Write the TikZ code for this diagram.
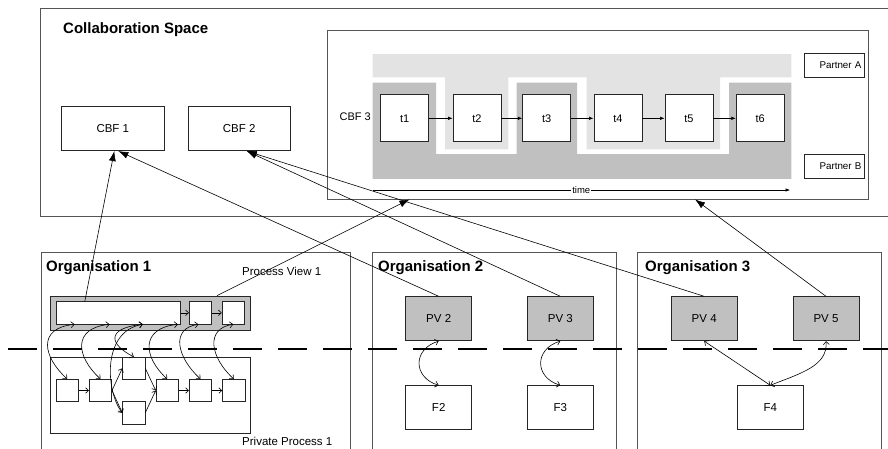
\documentclass[tikz,border=0pt]{standalone}
\usepackage{fontspec}
\setmainfont{Liberation Sans}
\usetikzlibrary{arrows.meta,calc}
\definecolor{lanelight}{HTML}{E3E3E3}
\definecolor{lanedark}{HTML}{C0C0C0}
\definecolor{framegray}{HTML}{555555}

\begin{document}
\begin{tikzpicture}[x=1pt,y=-1pt,
  outerframe/.style={draw=framegray,line width=1pt},
  box/.style={draw=black!85,fill=white,line width=0.8pt,inner sep=0pt,
    font=\fontsize{11.5}{13}\selectfont},
  pvbox/.style={box,fill=lanedark,minimum width=66pt,minimum height=44pt},
  fbox/.style={box,minimum width=66pt,minimum height=43.6pt},
  tbox/.style={box,minimum width=48pt,minimum height=47pt,font=\fontsize{11}{13}\selectfont},
  mini/.style={box,minimum width=22.3pt,minimum height=22.3pt,line width=0.7pt},
  partner/.style={box,minimum width=60pt,minimum height=24pt,text width=55pt,align=right,
    font=\fontsize{9.8}{11}\selectfont},
  heading/.style={font=\fontsize{15}{18}\selectfont\bfseries,inner sep=0pt,anchor=west},
  txt/.style={font=\fontsize{11.5}{13}\selectfont,inner sep=0pt,anchor=west},
  smalltxt/.style={font=\fontsize{9.5}{11}\selectfont},
  bigarrow/.style={-{Latex[length=10pt,width=7pt]},line width=0.6pt},
  flow/.style={-{Latex[length=4.5pt,width=3.5pt]},line width=0.6pt},
  link/.style={-{Straight Barb[length=3pt,width=5.5pt]},line width=0.6pt},
  dlink/.style={{Straight Barb[length=3.2pt,width=6pt]}-{Straight Barb[length=3.2pt,width=6pt]},line width=0.6pt}]

\useasboundingbox (0,0) rectangle (888,448);

% ---------------- collaboration space ----------------
\draw[outerframe] (900,8) -- (40,8) -- (40,216) -- (900,216);
\node[heading] (cstitle) at (63,30) {Collaboration Space};

\node[box,minimum width=102.3pt,minimum height=44.7pt] (cbf1) at (112.8,128.3) {CBF 1};
\node[box,minimum width=101.7pt,minimum height=44.7pt] (cbf2) at (239.2,128.3) {CBF 2};

% CBF 3 with its two partner lanes
\node[draw=framegray,line width=0.8pt,minimum width=541pt,minimum height=169pt,inner sep=0pt]
  (cbf3) at (597.5,114.5) {};
\fill[lanelight] (372.6,54) -- (791.4,54) -- (791.4,77.3) -- (720,77.3) -- (720,149.3)
  -- (586.7,149.3) -- (586.7,77.3) -- (508.3,77.3) -- (508.3,149.3) -- (445,149.3)
  -- (445,77.3) -- (372.6,77.3) -- cycle;
\fill[lanedark] (372.6,82.7) -- (436,82.7) -- (436,154) -- (516.7,154)
  -- (516.7,82.7) -- (577,82.7) -- (577,154) -- (729,154) -- (729,82.7)
  -- (791.4,82.7) -- (791.4,178.8) -- (372.6,178.8) -- cycle;
\node[txt,anchor=east,font=\fontsize{11}{13}\selectfont] (cbf3lab) at (371,116.7) {CBF 3};

\node[tbox] (t1) at (404.6,118.3) {t1};
\node[tbox] (t2) at (477.0,118.3) {t2};
\node[tbox] (t3) at (546.7,118.3) {t3};
\node[tbox] (t4) at (617.9,118.3) {t4};
\node[tbox] (t5) at (689.0,118.3) {t5};
\node[tbox] (t6) at (760.2,118.3) {t6};
\foreach \a/\b in {t1/t2,t2/t3,t3/t4,t4/t5,t5/t6}
  \draw[flow] (\a.east) -- (\b.west);

\node[partner] (pa) at (834,65.3) {Partner A};
\node[partner] (pb) at (834,166.3) {Partner B};

\coordinate (tstart) at (372.6,190);
\coordinate (tend) at (790,190);
\draw[flow] (tstart) -- node[fill=white,inner sep=1pt,smalltxt] (timelab) {time} (tend);

% ---------------- organisations ----------------
\draw[outerframe] (41,460) -- (41,252.7) -- (350,252.7) -- (350,460);
\draw[outerframe] (372.3,460) -- (372.3,252.7) -- (616,252.7) -- (616,460);
\draw[outerframe] (637.3,460) -- (637.3,252.7) -- (881.7,252.7) -- (881.7,460);
\node[heading] (org1) at (46,268) {Organisation 1};
\node[heading] (org2) at (378,268) {Organisation 2};
\node[heading] (org3) at (645,268) {Organisation 3};

% organisation 1: process view and private process
\node[txt] (pvlab) at (242,271.7) {Process View 1};
\node[draw=black!85,fill=lanedark,line width=0.8pt,minimum width=199.3pt,
  minimum height=34pt,inner sep=0pt] (pvbar) at (150.35,313) {};
\node[mini,minimum width=124.7pt] (pvl) at (118.3,312.8) {};
\node[mini] (pvb1) at (200.5,312.8) {};
\node[mini] (pvb2) at (233.3,312.8) {};
\draw[link] (pvl.east) -- (pvb1.west);
\draw[link] (pvb1.east) -- (pvb2.west);

\node[draw=black!85,line width=0.8pt,minimum width=200pt,minimum height=76pt,
  inner sep=0pt] (priv) at (150.7,395.3) {};
\node[txt] (privlab) at (242,441.7) {Private Process 1};
\node[mini] (b1) at (67.2,390.5) {};
\node[mini] (b2) at (100.5,390.5) {};
\node[mini] (b3) at (133.8,368.3) {};
\node[mini] (b4) at (133.8,412.8) {};
\node[mini] (b5) at (167.2,390.5) {};
\node[mini] (b6) at (200.5,390.5) {};
\node[mini] (b7) at (233.8,390.5) {};
\draw[link] (b1.east) -- (b2.west);
\draw[link] (b2.east) -- (b3.west);
\draw[link] (b2.east) -- (b4.west);
\draw[link] (b3.east) -- (b5.west);
\draw[link] (b4.east) -- (b5.west);
\draw[link] (b5.east) -- (b6.west);
\draw[link] (b6.east) -- (b7.west);

% links between the process view and the private process
\draw[dlink] (b1.north) .. controls +(-24,-22) and +(-38,4) .. ($(pvl.south west)+(19,0)$);
\draw[dlink] (b2.north) .. controls +(-24,-22) and +(-38,4) .. ($(pvl.south west)+(54,0)$);
\draw[dlink] (b3.north) .. controls +(-24,-12) and +(-38,4) .. ($(pvl.south west)+(87.3,0)$);
\draw[dlink] (b4.west) .. controls +(-16,-20) and +(-42,7) .. ($(pvl.south west)+(87.3,0)$);
\draw[dlink] (b5.north) .. controls +(-24,-22) and +(-38,4) .. ($(pvl.south west)+(122.3,0)$);
\draw[dlink] (b6.north) .. controls +(-24,-22) and +(-28,4) .. ($(pvb1.south)+(-2,0)$);
\draw[dlink] (b7.north) .. controls +(-24,-22) and +(-28,4) .. (pvb2.south);

% organisation 2
\node[pvbox] (pv2) at (438.7,318.7) {PV 2};
\node[pvbox] (pv3) at (560.3,318.7) {PV 3};
\node[fbox] (f2) at (438.7,407.5) {F2};
\node[fbox] (f3) at (560.3,407.5) {F3};
\draw[dlink] (f2.north) .. controls +(-26,-8) and +(-26,8) .. (pv2.south);
\draw[dlink] (f3.north) .. controls +(-26,-8) and +(-26,8) .. (pv3.south);

% organisation 3
\node[pvbox] (pv4) at (704.2,318.7) {PV 4};
\node[pvbox] (pv5) at (826.0,318.7) {PV 5};
\node[fbox] (f4) at (770.3,407.5) {F4};
\draw[dlink] (pv4.south) -- (f4.north);
\draw[dlink] (pv5.south) .. controls +(2,25) and +(30,-12) .. (f4.north);

% boundary between public and private parts
\draw[line width=2pt,dash pattern=on 28.5pt off 16.5pt] (8.3,349) -- (900,349);

% process views mapped onto the collaborative business functions
\draw[bigarrow] ($(pvl.north west)!0.233!(pvl.north east)$) -- ($(cbf1.south)+(1.5,0)$);
\draw[bigarrow] (pv2.north) -- ($(cbf1.south)+(5.5,0)$);
\draw[bigarrow] (pv3.north) -- ($(cbf2.south)+(7.5,0)$);
\draw[bigarrow] (pv4.north) -- ($(cbf2.south)+(7.5,0)$);
\draw[bigarrow] ($(pvbar.north west)!0.833!(pvbar.north east)$)
  -- ($(cbf3.south west)!0.153!(cbf3.south east)$);
\draw[bigarrow] (pv5.north) -- ($(cbf3.south west)!0.68!(cbf3.south east)$);
\end{tikzpicture}
\end{document}
